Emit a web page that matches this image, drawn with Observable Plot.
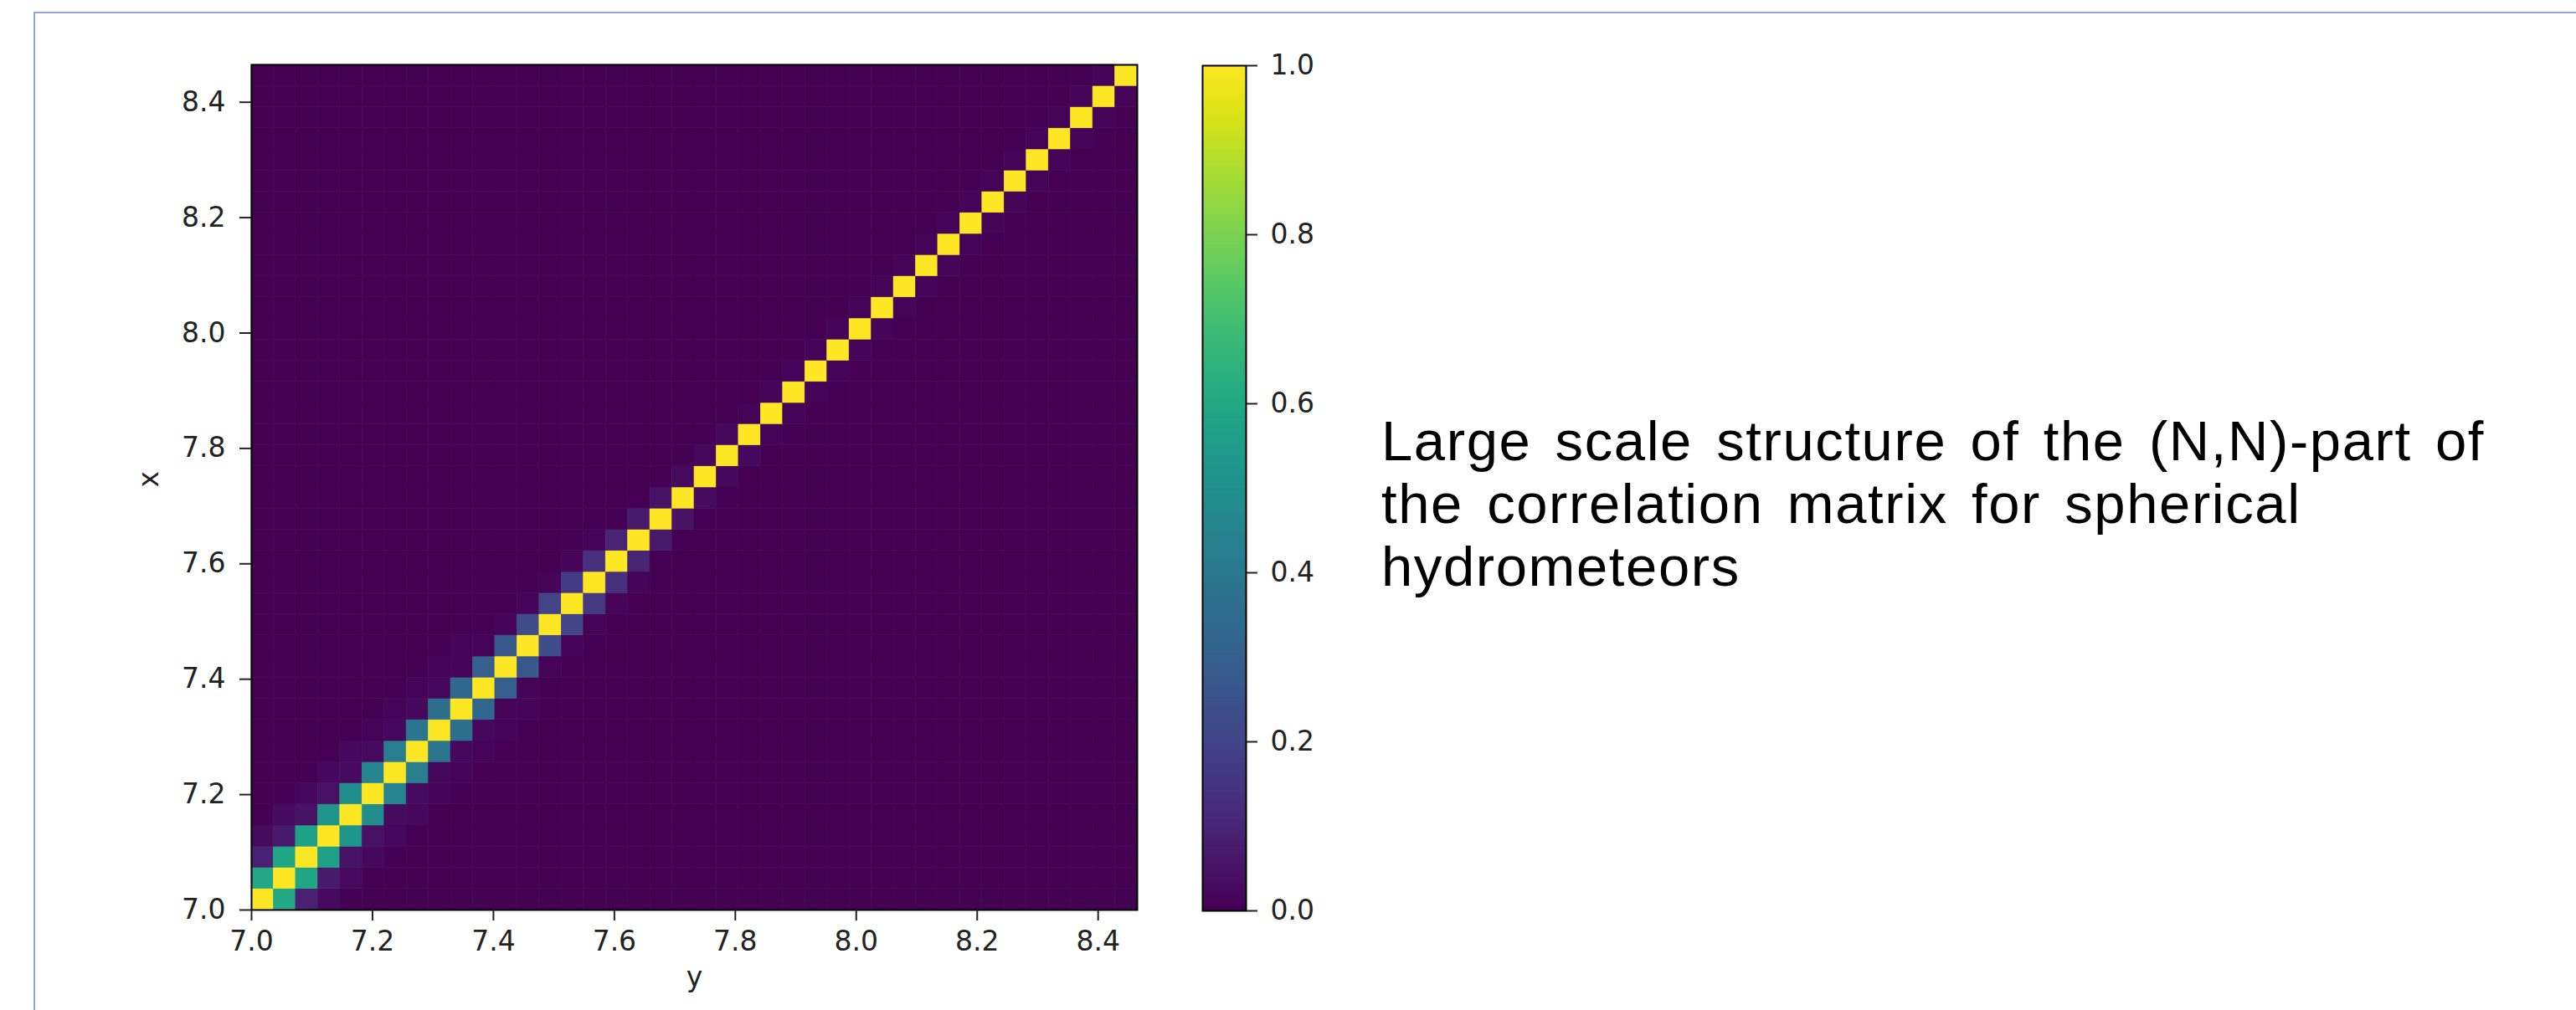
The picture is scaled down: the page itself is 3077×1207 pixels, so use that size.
<!DOCTYPE html>
<html>
<head>
<meta charset="utf-8">
<script src="https://cdn.jsdelivr.net/npm/d3@7"></script>
<script src="https://cdn.jsdelivr.net/npm/@observablehq/plot@0.6"></script>
<style>
  html, body { margin: 0; padding: 0; background: #ffffff; }
  #page { position: relative; width: 3077px; height: 1207px; overflow: hidden; background: #fff; }
  #border { position: absolute; left: 40px; top: 14px; width: 3100px; height: 1300px;
            border-top: 2px solid #8ba7df; border-left: 2px solid #8ba7df; }
  #heat { position: absolute; left: 0; top: 0; }
  #cbar { position: absolute; left: 1436px; top: 0; }
  #note { position: absolute; left: 1650px; top: 489px; font-family: "Liberation Sans", Arial, sans-serif;
          font-size: 67px; line-height: 75px; letter-spacing: 1.6px; word-spacing: 8px;
          color: #000; white-space: nowrap; }
</style>
</head>
<body>
<div id="page">
  <div id="border"></div>
  <div id="heat"></div>
  <div id="cbar"></div>
  <div id="note"></div>
</div>
<script>
// ---- data ----
// 40 x 40 correlation matrix on bins from 7.0 to ~8.465 (same bins on both axes)
const binStart = 7.0;
const binWidth = 0.03662;
const binCount = 40;

// main diagonal is 1.0; off-diagonal bands (value at (i, i+k)), symmetric
const band1 = [0.60, 0.59, 0.57, 0.52, 0.49, 0.45, 0.42, 0.39, 0.36, 0.33,
               0.30, 0.27, 0.23, 0.20, 0.17, 0.14, 0.10, 0.07, 0.05, 0.03,
               0.02, 0.02, 0.01, 0.01, 0.01, 0.01, 0.01, 0.01, 0.01, 0.01,
               0.01, 0.01, 0.01, 0.01, 0.01, 0.01, 0.01, 0.01, 0.01];
const band2 = [0.09, 0.07, 0.05, 0.04, 0.03, 0.03, 0.02, 0.02, 0.02, 0.01,
               0.01, 0.01, 0.01, 0.01, 0.01, 0.01, 0.00, 0.00, 0.00, 0.00,
               0.00, 0.00, 0.00, 0.00, 0.00, 0.00, 0.00, 0.00, 0.00, 0.00,
               0.00, 0.00, 0.00, 0.00, 0.00, 0.00, 0.00, 0.00];
const band3 = [0.03, 0.03, 0.02, 0.02, 0.02, 0.01, 0.01, 0.01, 0.01, 0.01,
               0.00, 0.00, 0.00, 0.00, 0.00, 0.00, 0.00, 0.00, 0.00, 0.00,
               0.00, 0.00, 0.00, 0.00, 0.00, 0.00, 0.00, 0.00, 0.00, 0.00,
               0.00, 0.00, 0.00, 0.00, 0.00, 0.00, 0.00];
const diagonalValue = 1.0;

const xTicks = [7.0, 7.2, 7.4, 7.6, 7.8, 8.0, 8.2, 8.4];
const yTicks = [7.0, 7.2, 7.4, 7.6, 7.8, 8.0, 8.2, 8.4];
const colorTicks = [0.0, 0.2, 0.4, 0.6, 0.8, 1.0];
const xLabel = "y";
const yLabel = "x";
const noteLines = [
  "Large scale structure of the (N,N)-part of",
  "the correlation matrix for spherical",
  "hydrometeors"
];

// ---- build table ----
const bands = [null, band1, band2, band3];
const edges = d3.range(binCount + 1).map(i => binStart + i * binWidth);
const cells = [];
for (let i = 0; i < binCount; i++) {      // row (vertical axis "x")
  for (let j = 0; j < binCount; j++) {    // column (horizontal axis "y")
    const k = Math.abs(i - j);
    let v = 0;
    if (k === 0) v = diagonalValue;
    else if (k < bands.length) v = bands[k][Math.min(i, j)];
    cells.push({x1: edges[j], x2: edges[j + 1], y1: edges[i], y2: edges[i + 1], v});
  }
}
const domainMax = edges[binCount];

const fontStyle = {fontFamily: "DejaVu Sans, sans-serif", fontSize: "33px", color: "#222", background: "transparent", overflow: "visible"};

const heat = Plot.plot({
  width: 1370, height: 1207,
  marginLeft: 300, marginRight: 12, marginTop: 77, marginBottom: 120,
  style: fontStyle,
  x: {domain: [binStart, domainMax]},
  y: {domain: [binStart, domainMax]},
  color: {type: "linear", scheme: "viridis", domain: [0, 1]},
  marks: [
    Plot.rect(cells, {x1: "x1", x2: "x2", y1: "y1", y2: "y2", fill: "v", stroke: "v", strokeWidth: 0.6}),
    Plot.frame({stroke: "#000", strokeWidth: 2}),
    Plot.axisX({ticks: xTicks, tickFormat: d3.format(".1f"), tickSize: 13, tickPadding: 12, strokeWidth: 2, label: null, fontSize: 33}),
    Plot.axisY({ticks: yTicks, tickFormat: d3.format(".1f"), tickSize: 14, tickPadding: 17, strokeWidth: 2, label: null, fontSize: 33}),
    Plot.text([xLabel], {frameAnchor: "bottom", dy: 91, fontSize: 33, fill: "#222"}),
    Plot.text([yLabel], {frameAnchor: "left", dx: -122, rotate: -90, fontSize: 33, fill: "#222"})
  ]
});
document.getElementById("heat").appendChild(heat);

// colorbar
const step = 0.004;
const steps = d3.range(0, 1, step);
const cbar = Plot.plot({
  width: 52 + 150, height: 1207,
  marginLeft: 0, marginRight: 150, marginTop: 78, marginBottom: 119,
  style: fontStyle,
  x: {domain: [0, 1], axis: null},
  y: {domain: [0, 1]},
  color: {type: "linear", scheme: "viridis", domain: [0, 1]},
  marks: [
    Plot.rect(steps, {x1: 0, x2: 1, y1: d => d, y2: d => Math.min(1, d + step * 1.5), fill: d => d + step / 2}),
    Plot.frame({stroke: "#000", strokeWidth: 2}),
    Plot.axisY({anchor: "right", ticks: colorTicks, tickFormat: d3.format(".1f"), tickSize: 13, tickPadding: 16, strokeWidth: 2, label: null, fontSize: 33})
  ]
});
document.getElementById("cbar").appendChild(cbar);

document.getElementById("note").innerHTML = noteLines.join("<br>");
</script>
</body>
</html>
